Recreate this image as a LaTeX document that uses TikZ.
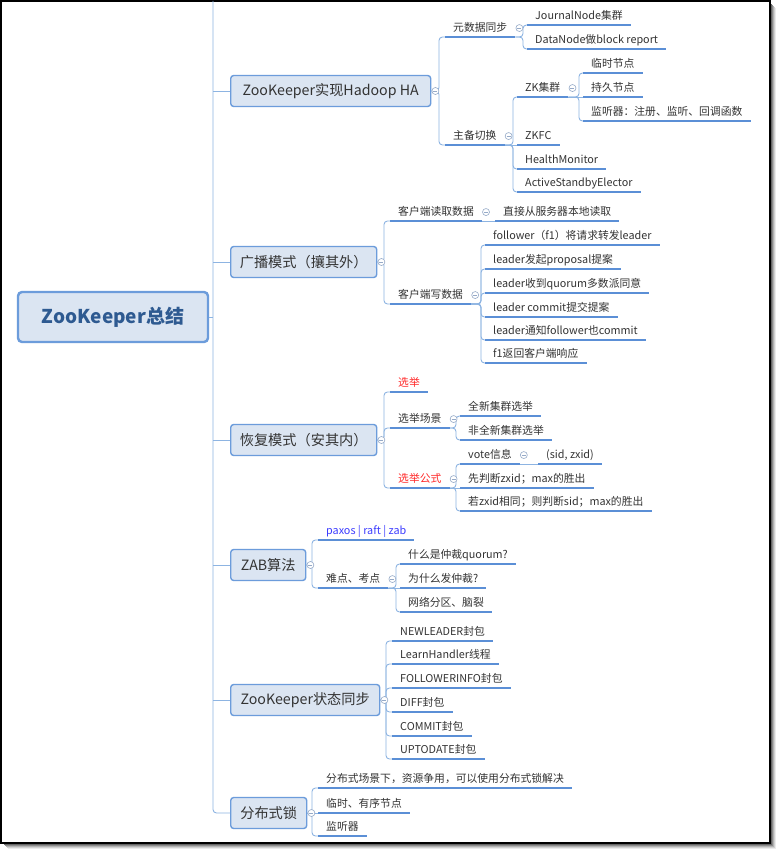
\documentclass[tikz,border=0pt]{standalone}
\usepackage{fontspec}
\setmainfont{Noto Sans CJK SC}
\usepackage{tikz}

\definecolor{lineblue}{RGB}{141,180,226}
\definecolor{ulblue}{RGB}{91,143,214}
\definecolor{boxfill}{RGB}{219,229,242}
\definecolor{boxdraw}{RGB}{108,156,219}
\definecolor{roottext}{RGB}{46,90,145}
\definecolor{txt}{RGB}{51,51,51}
\definecolor{foldc}{RGB}{150,170,200}
\definecolor{redtxt}{RGB}{255,40,40}
\definecolor{bluetxt}{RGB}{60,60,255}

\tikzset{
  conn/.style={lineblue, line width=0.9pt, rounded corners=3.5pt},
  uline/.style={ulblue, line width=1.6pt},
  box/.style={draw=boxdraw, fill=boxfill, line width=1.4pt, rounded corners=3pt, anchor=west,
    minimum height=31pt, inner xsep=8pt, text=txt, font=\fontsize{14.2}{17}\selectfont},
  topic/.style={anchor=south west, inner xsep=8pt, inner ysep=3.5pt, text height=8.5pt,
    text depth=2pt, text=txt, font=\fontsize{10.8}{13}\selectfont},
  fold/.style={circle, draw=foldc, fill=white, line width=0.6pt, minimum size=7pt, inner sep=0pt,
    path picture={\draw[foldc, line width=0.6pt] ([xshift=-2pt]path picture bounding box.center)
      -- ([xshift=2pt]path picture bounding box.center);}}
}

\begin{document}
\begin{tikzpicture}[x=1pt, y=-1pt]
\useasboundingbox (0,0) rectangle (779,853);

%frame and shadow
\foreach \s/\o in {1/0.6,2/0.45,3/0.3,4/0.18,5/0.08}
  \draw[black, opacity=\o, line width=1pt] (770+\s,3+\s) -- (770+\s,843+\s) -- (3+\s,843+\s);
\fill[white] (1,1) rectangle (770,843);
\draw[line width=1.5pt] (1,1) rectangle (770,843);

%root and main branches
\node[draw=boxdraw, fill=boxfill, line width=2.4pt, rounded corners=4pt, minimum width=190pt,
  minimum height=50pt, text=roottext, font=\fontsize{19}{22}\selectfont\bfseries] (root) at (113,317) {ZooKeeper总结};
\node[box, minimum width=200pt] (ha) at (230,91) {ZooKeeper实现Hadoop HA};
\node[box, minimum width=146pt] (bc) at (230,262) {广播模式（攘其外）};
\node[box, minimum width=146pt] (rc) at (230,440) {恢复模式（安其内）};
\node[box, minimum width=75pt] (zab) at (230,565) {ZAB算法};
\node[box, minimum width=149pt] (sync) at (230,700) {ZooKeeper状态同步};
\node[box, minimum width=76pt] (lock) at (230,813) {分布式锁};

%Hadoop HA
\node[topic] (ha1) at (445,37) {元数据同步};
\node[topic] (ha2) at (445,145) {主备切换};
\node[topic] (jn) at (527,25) {JournalNode集群};
\node[topic] (dn) at (527,49) {DataNode做block report};
\node[topic] (zk) at (517,97) {ZK集群};
\node[topic] (zkfc) at (517,145) {ZKFC};
\node[topic] (hm) at (517,169) {HealthMonitor};
\node[topic] (ase) at (517,192) {ActiveStandbyElector};
\node[topic] (zk1) at (583,73) {临时节点};
\node[topic] (zk2) at (583,97) {持久节点};
\node[topic] (zk3) at (583,121) {监听器：注册、监听、回调函数};

%broadcast
\node[topic] (bc1) at (390,221) {客户端读取数据};
\node[topic] (bc11) at (495,221) {直接从服务器本地读取};
\node[topic] (bc2) at (390,304) {客户端写数据};
\node[topic] (bc21) at (485,245) {follower（f1）将请求转发leader};
\node[topic] (bc22) at (485,269) {leader发起proposal提案};
\node[topic] (bc23) at (485,293) {leader收到quorum多数派同意};
\node[topic] (bc24) at (485,317) {leader commit提交提案};
\node[topic] (bc25) at (485,340) {leader通知follower也commit};
\node[topic] (bc26) at (485,363) {f1返回客户端响应};

%recovery
\node[topic, text=redtxt] (rc1) at (390,392) {选举};
\node[topic] (rc2) at (390,428) {选举场景};
\node[topic] (rc21) at (460,416) {全新集群选举};
\node[topic] (rc22) at (460,440) {非全新集群选举};
\node[topic, text=redtxt] (rc3) at (390,488) {选举公式};
\node[topic] (rc31) at (460,464) {vote信息};
\node[topic] (rc311) at (538,464) {(sid, zxid)};
\node[topic] (rc32) at (460,488) {先判断zxid；max的胜出};
\node[topic] (rc33) at (460,511) {若zxid相同；则判断sid；max的胜出};

%ZAB
\node[topic, text=bluetxt] (zab1) at (318,540) {paxos | raft | zab};
\node[topic] (zab2) at (318,588) {难点、考点};
\node[topic] (zab21) at (400,564) {什么是仲裁quorum?};
\node[topic] (zab22) at (400,588) {为什么发仲裁?};
\node[topic] (zab23) at (400,612) {网络分区、脑裂};

%state sync
\node[topic] (s1) at (392,641) {NEWLEADER封包};
\node[topic] (s2) at (392,664) {LearnHandler线程};
\node[topic] (s3) at (392,688) {FOLLOWERINFO封包};
\node[topic] (s4) at (392,712) {DIFF封包};
\node[topic] (s5) at (392,736) {COMMIT封包};
\node[topic] (s6) at (392,759) {UPTODATE封包};

%lock
\node[topic] (l1) at (318,788) {分布式场景下，资源争用，可以使用分布式锁解决};
\node[topic] (l2) at (318,813) {临时、有序节点};
\node[topic] (l3) at (318,836) {监听器};

%trunk
\coordinate (ttop) at (213,1);
\draw[conn] (ttop) |- (lock.west);
\draw[conn] (root.east) -- (root.east -| ttop);
\foreach \b in {ha,bc,rc,zab,sync}
  \draw[conn] (\b.west -| ttop) -- (\b.west);

%connectors
\foreach \p/\c in {ha/ha1,ha/ha2,bc/bc1,bc/bc2,rc/rc1,rc/rc2,rc/rc3,zab/zab1,zab/zab2,
    sync/s1,sync/s2,sync/s3,sync/s4,sync/s5,sync/s6,lock/l1,lock/l3}
  \draw[conn] (\p.east) -| ([xshift=-6pt]\c.south west) -- (\c.south west);
\foreach \p/\c in {ha1/jn,ha1/dn,ha2/zk,ha2/hm,ha2/ase,zk/zk1,zk/zk3,bc2/bc21,bc2/bc22,bc2/bc23,
    bc2/bc24,bc2/bc25,bc2/bc26,rc2/rc21,rc2/rc22,rc3/rc31,rc3/rc33,zab2/zab21,zab2/zab23}
  \draw[conn] (\p.south east) -| ([xshift=-4pt]\c.south west) -- (\c.south west);
\draw[conn] (lock.east) -- (l2.south west);
\foreach \p/\c in {ha2/zkfc,zk/zk2,bc1/bc11,rc3/rc32,rc31/rc311,zab2/zab22}
  \draw[conn] (\p.south east) -- (\c.south west);

%underlines
\foreach \n in {ha1,ha2,jn,dn,zk,zkfc,hm,ase,zk1,zk2,zk3,bc1,bc11,bc2,bc21,bc22,bc23,bc24,bc25,bc26,
    rc1,rc2,rc21,rc22,rc3,rc31,rc311,rc32,rc33,zab1,zab2,zab21,zab22,zab23,s1,s2,s3,s4,s5,s6,l1,l2,l3}
  \draw[uline] (\n.south west) -- (\n.south east);

%fold markers
\foreach \n in {ha,bc,rc,zab,sync,lock,ha1,ha2,zk,bc1,bc2,rc2,rc3,rc31,zab2}
  \node[fold] (\n-f) at ([xshift=4pt]\n.east) {};
\end{tikzpicture}
\end{document}
